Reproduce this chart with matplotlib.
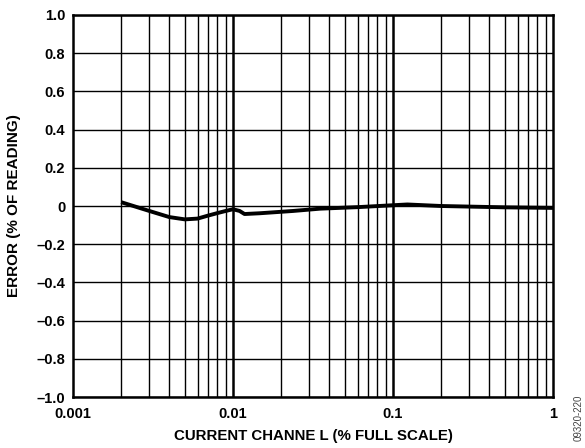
import matplotlib
matplotlib.use("Agg")
import matplotlib.pyplot as plt
from matplotlib.ticker import FixedLocator, NullFormatter

# Error vs. current channel input
current_pct = [0.002, 0.003, 0.004, 0.005, 0.006, 0.007, 0.008, 0.009, 0.010,
               0.011, 0.0118, 0.0147, 0.0237, 0.035, 0.06, 0.1, 0.123, 0.2,
               0.5, 1.0]
error_pct = [0.02, -0.026, -0.058, -0.07, -0.066, -0.05, -0.037, -0.026, -0.017,
             -0.026, -0.042, -0.038, -0.026, -0.014, -0.006, 0.004, 0.008, 0.0,
             -0.007, -0.01]

y_ticks = [1.0, 0.8, 0.6, 0.4, 0.2, 0.0, -0.2, -0.4, -0.6, -0.8, -1.0]
y_tick_labels = ["1.0", "0.8", "0.6", "0.4", "0.2", "0", "\u20130.2", "\u20130.4",
                 "\u20130.6", "\u20130.8", "\u20131.0"]
x_ticks = [0.001, 0.01, 0.1, 1]
x_tick_labels = ["0.001", "0.01", "0.1", "1"]

plt.rcParams["font.family"] = ["Liberation Sans", "DejaVu Sans"]
plt.rcParams["font.weight"] = "bold"

fig = plt.figure(figsize=(5.85, 4.48), dpi=100)
ax = fig.add_axes([73 / 585, 51 / 448, 480 / 585, 382 / 448])

ax.set_xscale("log")
ax.set_xlim(0.001, 1)
ax.set_ylim(-1.0, 1.0)

# Grid: every decade subdivision and every 0.2 on y
minor_x = [m * 10.0 ** e for e in (-3, -2, -1) for m in range(2, 10)]
for xv in minor_x:
    ax.axvline(xv, color="black", lw=1.0, zorder=1)
for xv in [0.01, 0.1]:
    ax.axvline(xv, color="black", lw=1.8, zorder=1)
for yv in y_ticks:
    ax.axhline(yv, color="black", lw=1.0, zorder=1)

ax.plot(current_pct, error_pct, color="black", lw=2.8, zorder=3,
        solid_capstyle="butt")

ax.set_yticks(y_ticks)
ax.set_yticklabels(y_tick_labels, fontsize=10.5, fontweight="bold")
ax.xaxis.set_major_locator(FixedLocator(x_ticks))
ax.xaxis.set_minor_locator(FixedLocator([]))
ax.xaxis.set_minor_formatter(NullFormatter())
ax.set_xticklabels(x_tick_labels, fontsize=10.5, fontweight="bold")
ax.tick_params(axis="y", length=0, pad=5.5)
ax.tick_params(axis="x", length=0, pad=7)

for s in ax.spines.values():
    s.set_linewidth(1.8)
    s.set_color("black")

ax.set_xlabel("CURRENT CHANNE L (% FULL SCALE)", fontsize=10.8, fontweight="bold",
              labelpad=6)
ax.set_ylabel("ERROR (% OF READING)", fontsize=11, fontweight="bold", labelpad=11)

fig.text(579 / 585, 1 - 395 / 448, "09320-220", rotation=90, fontsize=7,
         fontweight="normal", color="#444444", ha="center", va="top")

fig.savefig("out.png", dpi=100)
